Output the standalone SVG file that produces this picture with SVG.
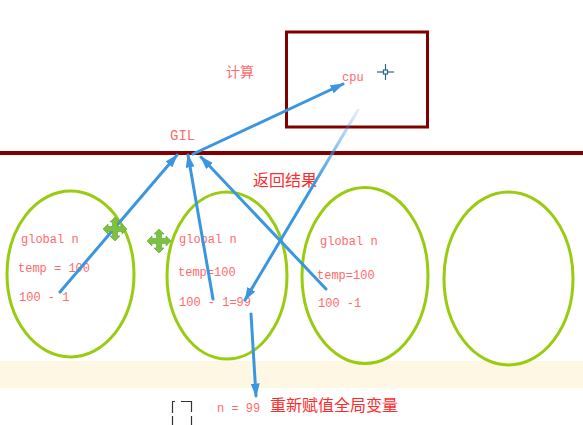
<svg xmlns="http://www.w3.org/2000/svg" width="583" height="425" viewBox="0 0 583 425">
<style>
.ell{fill:none;stroke:#99cc11;stroke-width:3}
.code{font-family:"Liberation Mono","DejaVu Sans Mono",monospace;font-size:12px;fill:#ff6b6b}
.cjk{font-family:"Noto Sans CJK SC","Noto Sans CJK JP",sans-serif;fill:#ff2a2a}
.conn line{stroke:#3a96e0;stroke-linecap:round}
.mv{fill:#7cc242;stroke:#5fa02a;stroke-width:0.6}
</style>
<defs>
<marker id="ah" viewBox="0 0 12 8" refX="11" refY="4" markerWidth="4.5" markerHeight="3" orient="auto" markerUnits="strokeWidth">
<path d="M0,0 L12,4 L0,8 z" fill="#3a96e0"/>
</marker>
<linearGradient id="fade" gradientUnits="userSpaceOnUse" x1="358" y1="110" x2="245" y2="300">
<stop offset="0" stop-color="#3a96e0" stop-opacity="0.15"/>
<stop offset="0.4" stop-color="#3a96e0" stop-opacity="1"/>
</linearGradient>
</defs>
<rect x="0" y="0" width="583" height="425" fill="#ffffff"/>
<rect id="band" x="0" y="361" width="583" height="27" fill="#fdf7e3"/>

<g id="cpu">
<rect x="286.5" y="32" width="141" height="95" fill="none" stroke="#800000" stroke-width="3"/>
<text class="code" x="342" y="81">cpu</text>
<g stroke="#2a6785" stroke-width="1.2" fill="none">
<line x1="385.5" y1="64" x2="385.5" y2="80"/>
<line x1="377" y1="72" x2="394" y2="72"/>
<rect x="383.5" y="70" width="4" height="4" fill="#ffffff"/>
</g>
</g>
<text id="calc" class="cjk" x="226" y="77" font-size="14" style="fill:#ff6b6b">计算</text>

<g id="gil">
<rect x="0" y="151" width="583" height="4" fill="#800000"/>
<text class="code" x="170" y="140" style="font-size:14px">GIL</text>
</g>
<text id="ret" class="cjk" x="253" y="186" font-size="16">返回结果</text>

<g id="t1">
<ellipse class="ell" cx="70.5" cy="274" rx="63.5" ry="83"/>
<text class="code" x="21" y="243">global n</text>
<text class="code" x="18" y="272">temp = 100</text>
<text class="code" x="19" y="301">100 - 1</text>
</g>
<g id="t2">
<ellipse class="ell" cx="227" cy="275.5" rx="60" ry="83.5"/>
<text class="code" x="179" y="243">global n</text>
<text class="code" x="178" y="276">temp=100</text>
<text class="code" x="179" y="306">100 - 1=99</text>
</g>
<g id="t3">
<ellipse class="ell" cx="365" cy="275.5" rx="63" ry="88"/>
<text class="code" x="320" y="245">global n</text>
<text class="code" x="317" y="279">temp=100</text>
<text class="code" x="318" y="307">100 -1</text>
</g>
<g id="t4">
<ellipse class="ell" cx="508.5" cy="278.5" rx="64.5" ry="86.5"/>
</g>

<g id="connectors" class="conn">
<line x1="60" y1="292" x2="177" y2="155" stroke-width="3" marker-end="url(#ah)"/>
<line x1="213" y1="299" x2="188" y2="155" stroke-width="3" marker-end="url(#ah)"/>
<line x1="326" y1="289" x2="201" y2="157" stroke-width="3" marker-end="url(#ah)"/>
<line x1="193" y1="154" x2="343" y2="84" stroke-width="3" marker-end="url(#ah)"/>
<line x1="358" y1="110" x2="245" y2="300" stroke-width="3" marker-end="url(#ah)" style="stroke:url(#fade)"/>
<line x1="251" y1="314" x2="256" y2="396" stroke-width="3" marker-end="url(#ah)"/>
</g>

<g id="move1" class="mv" transform="translate(115,229)">
<path d="M-2.5,-7 L-5,-7 L0,-12 L5,-7 L2.5,-7 L2.5,-2.5 L7,-2.5 L7,-5 L12,0 L7,5 L7,2.5 L2.5,2.5 L2.5,7 L5,7 L0,12 L-5,7 L-2.5,7 L-2.5,2.5 L-7,2.5 L-7,5 L-12,0 L-7,-5 L-7,-2.5 L-2.5,-2.5 z"/>
</g>
<g id="move2" class="mv" transform="translate(159,241)">
<path d="M-2.5,-7 L-5,-7 L0,-12 L5,-7 L2.5,-7 L2.5,-2.5 L7,-2.5 L7,-5 L12,0 L7,5 L7,2.5 L2.5,2.5 L2.5,7 L5,7 L0,12 L-5,7 L-2.5,7 L-2.5,2.5 L-7,2.5 L-7,5 L-12,0 L-7,-5 L-7,-2.5 L-2.5,-2.5 z"/>
</g>

<g id="result">
<text class="code" x="217" y="412">n = 99</text>
<text class="cjk" x="270" y="411" font-size="16">重新赋值全局变量</text>
</g>
<g id="marquee" fill="none" stroke="#333333" stroke-width="1.2">
<path d="M172.5,401 V425" stroke-dasharray="12 3"/>
<path d="M172,401.5 H175 M181,401.5 H192"/>
<path d="M191.5,401 V412 M191.5,416 V425"/>
</g>
</svg>
